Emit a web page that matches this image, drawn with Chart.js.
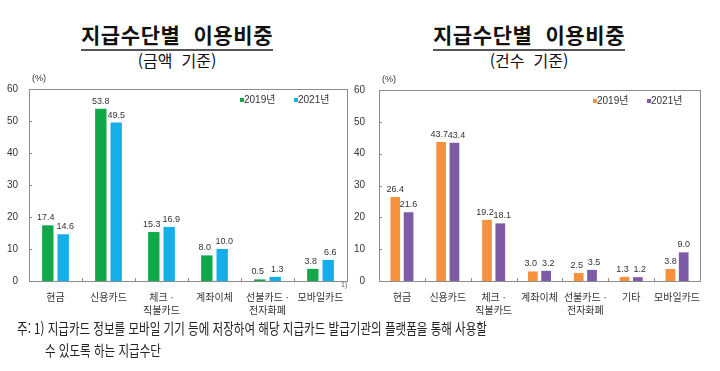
<!DOCTYPE html>
<html lang="ko">
<head>
  <meta charset="UTF-8">
  <title>지급수단별 이용비중</title>
  <script src="https://cdn.jsdelivr.net/npm/chart.js"></script>
  <style>
    body {
      margin: 0;
      width: 720px;
      height: 371px;
      background: #fff;
      font-family: 'Noto Sans CJK KR', sans-serif;
      color: #111;
      position: relative;
      overflow: hidden;
    }
    .title {
      position: absolute;
      top: 21px;
      width: 360px;
      text-align: center;
      font-size: 21px;
      letter-spacing: 0.6px;
      font-weight: bold;
      line-height: 26px;
      white-space: pre;
    }
    .title span {
      border-bottom: 2px solid #555;
    }
    .sub {
      position: absolute;
      top: 49px;
      width: 360px;
      text-align: center;
      font-size: 16px;
      line-height: 22px;
      white-space: pre;
    }
    canvas {
      position: absolute;
      top: 70px;
    }
    .note {
      position: absolute;
      left: 17px;
      font-size: 15px;
      line-height: 20px;
      white-space: nowrap;
      transform: scaleX(0.77);
      transform-origin: left center;
      color: #222;
    }
  </style>
</head>
<body>
  <div class="title" style="left:-3px"><span>지급수단별  이용비중</span></div>
  <div class="sub" style="left:-3px">(금액  기준)</div>
  <div class="title" style="left:349px"><span>지급수단별  이용비중</span></div>
  <div class="sub" style="left:349px">(건수  기준)</div>

  <canvas id="amtChart" width="360" height="250" style="left:0"></canvas>
  <canvas id="cntChart" width="370" height="250" style="left:350px"></canvas>

  <div class="note" style="top:318px">주: 1) 지급카드 정보를 모바일 기기 등에 저장하여 해당 지급카드 발급기관의 플랫폼을 통해 사용할</div>
  <div class="note" style="top:340px;left:45px">수 있도록 하는 지급수단</div>

  <script>
    // 금액 기준
    const amtLabels = ['현금', '신용카드', ['체크 ·', '직불카드'], '계좌이체', ['선불카드 ·', '전자화폐'], '모바일카드'];
    const amt2019 = [17.4, 53.8, 15.3, 8.0, 0.5, 3.8];
    const amt2021 = [14.6, 49.5, 16.9, 10.0, 1.3, 6.6];

    // 건수 기준
    const cntLabels = ['현금', '신용카드', ['체크 ·', '직불카드'], '계좌이체', ['선불카드 ·', '전자화폐'], '기타', '모바일카드'];
    const cnt2019 = [26.4, 43.7, 19.2, 3.0, 2.5, 1.3, 3.8];
    const cnt2021 = [21.6, 43.4, 18.1, 3.2, 3.5, 1.2, 9.0];

    const seriesNames = ['2019년', '2021년'];
    const yTicks = [0, 10, 20, 30, 40, 50, 60];

    const FONT = "'Liberation Sans', 'Noto Sans CJK KR', sans-serif";
    const TXT = '#333';

    // 테두리, 눈금, 값 라벨, 범례 그리기
    const decoPlugin = {
      id: 'deco',
      afterDatasetsDraw(chart, args, opts) {
        const ctx = chart.ctx;
        const a = chart.chartArea;
        const y = chart.scales.y;
        ctx.save();
        ctx.strokeStyle = '#8c8c8c';
        ctx.lineWidth = 1;
        ctx.strokeRect(Math.round(a.left) + 0.5, Math.round(a.top) + 0.5,
          Math.round(a.right - a.left), Math.round(a.bottom - a.top));
        // y 눈금 (안쪽)
        ctx.beginPath();
        yTicks.forEach(v => {
          const py = Math.round(y.getPixelForValue(v)) + 0.5;
          ctx.moveTo(a.left, py);
          ctx.lineTo(a.left + 3, py);
        });
        // x 구분 눈금 (안쪽)
        const n = chart.data.labels.length;
        const w = (a.right - a.left) / n;
        for (let i = 1; i < n; i++) {
          const px = Math.round(a.left + w * i) + 0.5;
          ctx.moveTo(px, a.bottom);
          ctx.lineTo(px, a.bottom - 3);
        }
        ctx.stroke();

        // 값 라벨 (높이가 비슷하면 조금 벌려 줌)
        ctx.fillStyle = TXT;
        ctx.font = '9px ' + FONT;
        ctx.textAlign = 'center';
        ctx.textBaseline = 'bottom';
        const m0 = chart.getDatasetMeta(0).data;
        const m1 = chart.getDatasetMeta(1).data;
        chart.data.datasets.forEach((ds, di) => {
          chart.getDatasetMeta(di).data.forEach((bar, i) => {
            const close = Math.abs(m0[i].y - m1[i].y) < 11;
            const dx = close ? (di === 0 ? -2 : 2) : 0;
            ctx.fillText(ds.data[i].toFixed(1), bar.x + dx, bar.y - 3);
          });
        });

        // (%)
        ctx.textAlign = 'left';
        ctx.textBaseline = 'middle';
        ctx.font = '9px ' + FONT;
        ctx.fillText('(%)', a.left + 3, a.top - 10);

        // 범례
        ctx.font = '10px ' + FONT;
        chart.data.datasets.forEach((ds, di) => {
          const lx = a.right - 107 + di * 54;
          const ly = a.top + 11;
          ctx.fillStyle = ds.backgroundColor;
          ctx.fillRect(lx, ly - 2, 4, 4);
          ctx.fillStyle = TXT;
          ctx.fillText(ds.label, lx + 4, ly);
        });

        if (opts.note) {
          ctx.font = '7px ' + FONT;
          ctx.fillStyle = '#555';
          ctx.fillText('1)', a.right - 6, a.bottom + 4);
        }
        ctx.restore();
      }
    };

    function drawChart(canvasId, labels, d1, d2, colors, yWidth, labelPad, rightPad, barPct, note) {
      return new Chart(document.getElementById(canvasId), {
        type: 'bar',
        data: {
          labels: labels,
          datasets: [
            { label: seriesNames[0], data: d1, backgroundColor: colors[0] },
            { label: seriesNames[1], data: d2, backgroundColor: colors[1] }
          ]
        },
        options: {
          responsive: false,
          animation: false,
          devicePixelRatio: 1,
          categoryPercentage: 0.58,
          barPercentage: barPct,
          layout: { padding: { top: 19, right: rightPad, left: 0, bottom: 0 } },
          plugins: {
            legend: { display: false },
            tooltip: { enabled: false },
            deco: { note: note }
          },
          scales: {
            x: {
              grid: { display: false },
              border: { display: false },
              ticks: {
                color: TXT,
                font: { size: 10, family: FONT, lineHeight: 1.3 },
                padding: 3,
                maxRotation: 0,
                autoSkip: false
              },
              afterFit: s => { s.height = 39; }
            },
            y: {
              min: 0,
              max: 60,
              grid: { display: false, drawTicks: false },
              border: { display: false },
              ticks: {
                stepSize: 10,
                color: TXT,
                font: { size: 10, family: FONT },
                padding: labelPad
              },
              afterFit: s => { s.width = yWidth; }
            }
          }
        },
        plugins: [decoPlugin]
      });
    }

    drawChart('amtChart', amtLabels, amt2019, amt2021, ['#12a84a', '#14aeea'], 29, 11, 13, 0.74, true);
    drawChart('cntChart', cntLabels, cnt2019, cnt2021, ['#f7913d', '#7d5ba6'], 29, 14, 20, 0.73, false);
  </script>
</body>
</html>
